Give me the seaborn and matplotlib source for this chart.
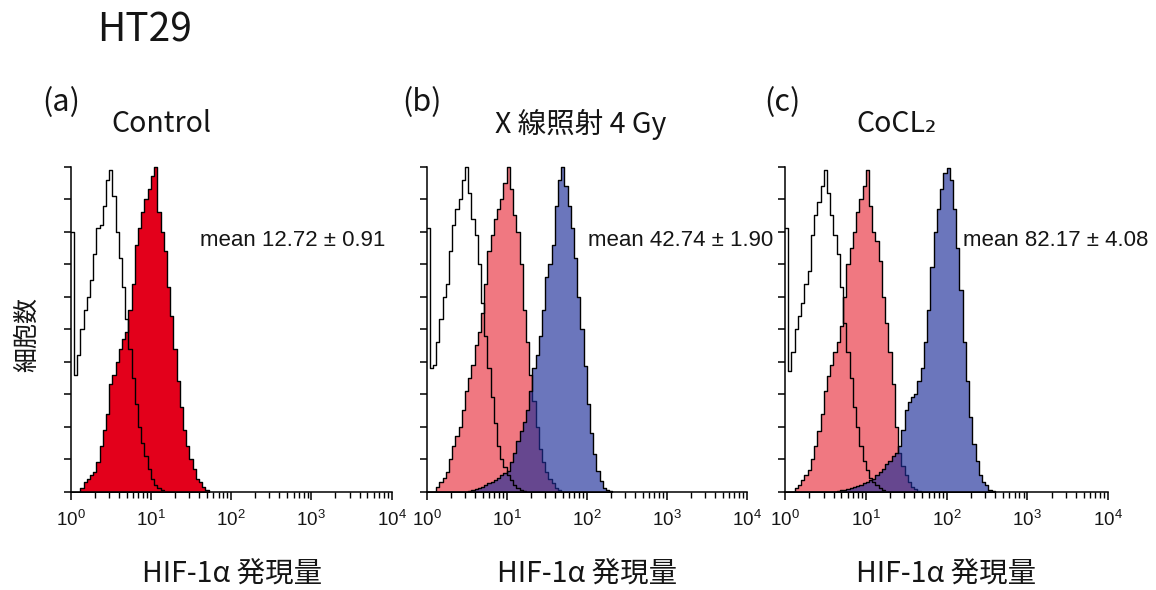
import numpy as np
import pandas as pd
import matplotlib
matplotlib.use("Agg")
import matplotlib.pyplot as plt
import seaborn as sns
from matplotlib.ticker import FixedLocator, LogLocator, NullFormatter

# ---------------- data (cell counts per log channel, 0.04 decade per channel) -------------
CHANNEL_WIDTH = 0.04

A_UNSTAINED = [80, 36, 42, 50, 56, 60, 65, 73, 81, 82, 88, 96, 99, 91, 80, 72, 63, 53,
               44, 35, 27, 20, 15, 11, 7, 4, 2, 1, 0.5]
A_CONTROL = [0, 0, 0, 1, 3, 4, 5, 6, 9, 14, 19, 24, 33, 36, 40, 44, 47, 49, 56, 64, 76,
             81, 86, 90, 93, 97, 100, 86, 80, 74, 63, 54, 44, 34, 26, 19, 14, 10, 7, 4,
             3, 1.5, 0.5]

B_UNSTAINED = [81, 38, 39, 46, 53, 60, 64, 74, 82, 87, 90, 96, 100, 92, 84, 79, 70, 58,
               48, 38, 29, 21, 14, 10, 7.5, 5, 3.5, 2, 1.2, 0.5, 0.2]
B_CONTROL = [0, 0, 0, 1.5, 3, 4.3, 6, 10, 14, 17, 20, 25, 31, 35, 39, 45, 49, 55, 64, 74,
             79, 84, 87, 90, 95, 100, 93, 85, 80, 70, 56, 46, 36, 28, 20, 13, 9, 6, 4,
             2.5, 1.2, 0.5]
B_XRAY = [0, 0, 0, 0, 0, 0, 0, 0, 0, 0, 0, 0, 0, 0.3, 0.5, 0.8, 1, 1.3, 2, 2.5, 3, 3.5,
          4.3, 5, 5.7, 6.4, 9, 12, 15.5, 18.5, 21.5, 25, 31, 38, 42, 48, 56, 66, 70, 76,
          88, 96, 100, 94, 88, 81, 72, 60, 50, 38.5, 27, 18, 11.6, 6.4, 3.3, 1.2, 0.6, 0.2]

C_UNSTAINED = [81, 37, 43, 50, 54, 58, 64, 68, 79, 85, 89, 94, 99, 92, 85, 79, 73, 63,
               52, 43, 35, 26, 20, 14, 9.5, 6.5, 4.2, 3, 2, 1.2, 0.5]
C_CONTROL = [0, 0, 0, 1, 2, 3.5, 5, 6.5, 10, 14, 18.5, 24, 31, 35.5, 39, 43, 46, 51, 60,
             70, 75, 80, 86, 90, 94, 99, 88, 80, 77, 71, 60, 52, 43, 33, 20, 12, 8, 5, 3,
             1.5, 0.7, 0.3]
C_COCL2 = [0, 0, 0, 0, 0, 0, 0, 0, 0, 0, 0, 0, 0, 0, 0, 0, 0.2, 0.4, 0.6, 0.8, 1, 1.3,
           1.7, 2, 2.5, 3, 3.5, 4, 5, 6, 7, 8.5, 9.5, 11, 12, 14, 19, 25, 27.5, 29, 30,
           34, 38, 46, 56, 69, 80, 87, 93, 98, 99.5, 96, 87, 75, 62, 46, 34, 23, 14.5,
           9.3, 5, 3, 2, 0.6, 0.2]

DECADE_TICKS = [1, 10, 100, 1000, 10000]
DECADE_LABELS = ["$10^{0}$", "$10^{1}$", "$10^{2}$", "$10^{3}$", "$10^{4}$"]
Y_TICKS = [0, 10, 20, 30, 40, 50, 60, 70, 80, 90, 100]

SUPTITLE = "HT29"
PANEL_LETTERS = ["(a)", "(b)", "(c)"]
PANEL_TITLES = ["Control", "X 線照射 4 Gy", "CoCL₂"]
MEAN_TEXTS = ["mean 12.72 ± 0.91", "mean 42.74 ± 1.90", "mean 82.17 ± 4.08"]
X_LABEL = "HIF-1α 発現量"
Y_LABEL = "細胞数"

# ---------------- style ----------------
sns.set_theme(style="white")
JP = ["Noto Sans CJK JP", "DejaVu Sans"]
ARIAL = ["Liberation Sans", "DejaVu Sans"]
plt.rcParams["font.family"] = JP
plt.rcParams["mathtext.fontset"] = "custom"
plt.rcParams["mathtext.rm"] = "Liberation Sans"
plt.rcParams["mathtext.it"] = "Liberation Sans:italic"
plt.rcParams["mathtext.bf"] = "Liberation Sans:bold"

RED = "#E3001B"
PINK_BASE = "#E61E2D"
BLUE_BASE = "#1C2D98"
TXT = "#151515"

W, H = 1156, 590
fig = plt.figure(figsize=(W / 100, H / 100), dpi=100)
fig.patch.set_facecolor("white")


def frame(counts):
    n = len(counts)
    edges = [i * CHANNEL_WIDTH for i in range(n + 1)]
    centers = 10 ** ((np.arange(n) + 0.5) * CHANNEL_WIDTH)
    return pd.DataFrame({"fl": centers, "count": counts}), edges


def filled(ax, counts, color, alpha):
    df, edges = frame(counts)
    sns.histplot(data=df, x="fl", weights="count", bins=edges, log_scale=True,
                 element="step", fill=True, color=color, alpha=alpha,
                 edgecolor="black", linewidth=1.0, ax=ax)


def outline(ax, counts):
    df, edges = frame(counts)
    sns.histplot(data=df, x="fl", weights="count", bins=edges, log_scale=True,
                 element="step", fill=False, color="black", linewidth=1.0, ax=ax)


# axes geometry in pixels: (left = 10^0, right = 10^4)
PANELS_PX = [(70.7, 391.5), (426.7, 746.7), (785.0, 1108.0)]
Y0_PX, Y100_PX = 491.5, 166.5
YMAX = 101.0
AX_H = (Y0_PX - Y100_PX) * YMAX / 100.0

axes = []
for (l, r) in PANELS_PX:
    ax = fig.add_axes([l / W, (H - Y0_PX) / H, (r - l) / W, AX_H / H])
    ax.set_facecolor("none")
    axes.append(ax)

# (a)
filled(axes[0], A_CONTROL, RED, 1.0)
outline(axes[0], A_UNSTAINED)

# (b)
outline(axes[1], B_UNSTAINED)
filled(axes[1], B_CONTROL, PINK_BASE, 0.6)
filled(axes[1], B_XRAY, BLUE_BASE, 0.65)

# (c)
outline(axes[2], C_UNSTAINED)
filled(axes[2], C_CONTROL, PINK_BASE, 0.6)
filled(axes[2], C_COCL2, BLUE_BASE, 0.65)

for ax in axes:
    ax.set_xscale("log")
    ax.set_xlim(DECADE_TICKS[0], DECADE_TICKS[-1])
    ax.set_ylim(0, YMAX)
    ax.set_xlabel("")
    ax.set_ylabel("")
    ax.grid(False)
    for s in ["top", "right"]:
        ax.spines[s].set_visible(False)
    for s in ["left", "bottom"]:
        ax.spines[s].set_color("black")
        ax.spines[s].set_linewidth(1.1)
    ax.spines["left"].set_bounds(0, 100)
    ax.xaxis.set_major_locator(FixedLocator(DECADE_TICKS))
    ax.set_xticklabels(DECADE_LABELS)
    ax.xaxis.set_minor_locator(LogLocator(base=10, subs=np.arange(2, 10)))
    ax.xaxis.set_minor_formatter(NullFormatter())
    ax.set_yticks(Y_TICKS)
    ax.tick_params(axis="x", which="major", direction="out", length=6, width=1.1,
                   color="black", bottom=True, labelsize=13.5, pad=7, labelcolor=TXT)
    ax.tick_params(axis="x", which="minor", direction="out", length=4, width=1.0,
                   color="black", bottom=True)
    ax.tick_params(axis="y", which="major", direction="out", length=5, width=1.1,
                   color="black", left=True, labelleft=False)
    for lbl in ax.get_xticklabels():
        lbl.set_fontfamily(ARIAL)


def px_text(x, y, s, **kw):
    fig.text(x / W, 1 - y / H, s, **kw)


px_text(97, 30, SUPTITLE, ha="left", va="center", fontsize=28, color=TXT)
for (lx, tx, mx, xc), letter, title, mean in zip(
        [(61, 161, 200, 232), (422, 581, 588, 587), (782, 897, 963, 946)],
        PANEL_LETTERS, PANEL_TITLES, MEAN_TEXTS):
    px_text(lx, 103, letter, ha="center", va="center", fontsize=22, color=TXT)
    px_text(tx, 124, title, ha="center", va="center", fontsize=20.5, color=TXT)
    px_text(mx, 240, mean, ha="left", va="center", fontsize=16, color=TXT,
            family=ARIAL)
    px_text(xc, 574, X_LABEL, ha="center", va="center", fontsize=20.5, color=TXT)

px_text(27, 334, Y_LABEL, ha="center", va="center", rotation=90, fontsize=18,
        color=TXT)

fig.savefig("out.png", dpi=100, facecolor="white")
